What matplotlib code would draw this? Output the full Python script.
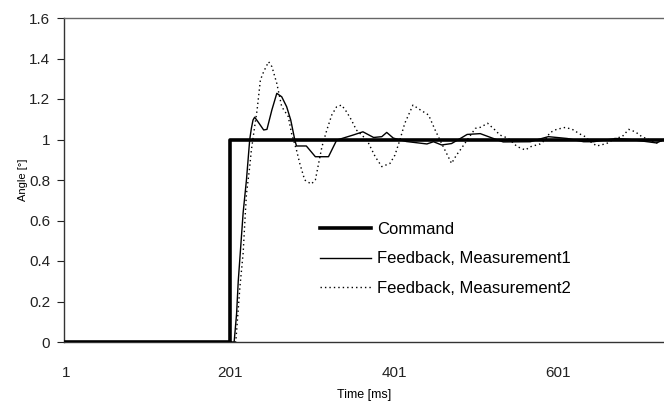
import matplotlib
matplotlib.use("Agg")
import matplotlib.pyplot as plt
from matplotlib.ticker import FuncFormatter

plt.rcParams['font.family'] = ['Liberation Sans', 'DejaVu Sans']

# Command (step input)
cmd_t = [1, 201, 730]
cmd_v = [0, 1, 1]

# Feedback, Measurement1
m1_t = [1, 206, 209, 211, 214, 217, 221, 223, 225, 227,
        229, 231, 235, 242, 246, 252, 258, 264, 270, 275,
        280, 282, 294, 305, 321, 331, 351, 363, 376, 386,
        392, 400, 416, 441, 449, 459, 471, 483, 490, 506,
        520, 534, 567, 581, 589, 612, 632, 644, 672, 689,
        721, 730]
m1_v = [0, 0, 0.14, 0.3, 0.47, 0.64, 0.8, 0.9, 1.0, 1.055,
        1.096, 1.11, 1.088, 1.047, 1.05, 1.146, 1.228, 1.211, 1.162, 1.096,
        0.997, 0.968, 0.968, 0.915, 0.915, 0.997, 1.022, 1.038, 1.01, 1.014,
        1.035, 1.007, 0.99, 0.978, 0.989, 0.973, 0.98, 1.008, 1.025, 1.029,
        1.008, 0.988, 0.989, 1.005, 1.014, 1.005, 0.989, 0.989, 1.005, 1.0,
        0.983, 1.0]

# Feedback, Measurement2
m2_t = [1, 208, 213, 217, 219, 221, 225, 227, 231, 234,
        238, 242, 248, 252, 258, 264, 272, 276, 282, 286,
        292, 300, 305, 309, 313, 319, 325, 331, 337, 343,
        349, 355, 368, 372, 378, 386, 396, 402, 408, 414,
        424, 433, 443, 451, 459, 465, 471, 477, 483, 490,
        500, 506, 515, 524, 530, 540, 551, 561, 567, 579,
        585, 591, 599, 610, 620, 626, 634, 640, 648, 660,
        670, 679, 687, 695, 703, 713, 721, 730]
m2_v = [0, 0, 0.27, 0.44, 0.59, 0.73, 0.866, 0.948, 1.063, 1.146,
        1.294, 1.335, 1.384, 1.36, 1.277, 1.162, 1.113, 1.03, 0.948, 0.882,
        0.8, 0.78, 0.8, 0.882, 0.964, 1.047, 1.121, 1.162, 1.17, 1.137,
        1.096, 1.047, 0.997, 0.964, 0.915, 0.866, 0.882, 0.923, 0.997, 1.08,
        1.17, 1.146, 1.121, 1.047, 0.98, 0.931, 0.882, 0.923, 0.956, 0.997,
        1.055, 1.06, 1.08, 1.047, 1.022, 1.006, 0.965, 0.948, 0.964, 0.978,
        0.997, 1.034, 1.05, 1.06, 1.047, 1.03, 1.014, 0.99, 0.968, 0.98,
        1.005, 1.014, 1.05, 1.038, 1.014, 0.997, 0.983, 1.0]

x_ticks = [1, 201, 401, 601]
y_ticks = [0, 0.2, 0.4, 0.6, 0.8, 1.0, 1.2, 1.4, 1.6]

fig = plt.figure(figsize=(6.64, 4.05), dpi=100)
ax = fig.add_axes([64 / 664, 63 / 405, 600 / 664, 324 / 405])

ax.plot(cmd_t, cmd_v, color='black', lw=2.6, drawstyle='steps-post',
        label='Command', zorder=3)
ax.plot(m1_t, m1_v, color='black', lw=1.0, label='Feedback, Measurement1', zorder=4)
ax.plot(m2_t, m2_v, color='black', lw=1.0, linestyle=(0, (1, 2.2)),
        label='Feedback, Measurement2', zorder=4)

ax.set_xlim(-1.4, 730)
ax.set_ylim(0, 1.6)
ax.set_xticks(x_ticks)
ax.set_yticks(y_ticks)
ax.yaxis.set_major_formatter(FuncFormatter(lambda v, p: f'{v:g}'))
ax.tick_params(axis='x', length=0, pad=17, labelsize=11, colors='#222222')
ax.tick_params(axis='y', length=5, width=0.8, direction='out', pad=5,
               labelsize=11, colors='#222222')

for side in ['left', 'bottom']:
    ax.spines[side].set_color('#333333')
    ax.spines[side].set_linewidth(1.0)
ax.spines['top'].set_color('#666666')
ax.spines['top'].set_linewidth(1.0)
ax.spines['right'].set_visible(False)

ax.set_xlabel('Time [ms]', fontsize=9, labelpad=7)
ax.set_ylabel('Angle [°]', fontsize=8, labelpad=1)

ax.legend(loc='upper left', bbox_to_anchor=(0.415, 0.392), frameon=False,
          fontsize=12, handlelength=3.1, handletextpad=0.35, labelspacing=0.89,
          borderaxespad=0)

fig.savefig('out.png', dpi=100)
